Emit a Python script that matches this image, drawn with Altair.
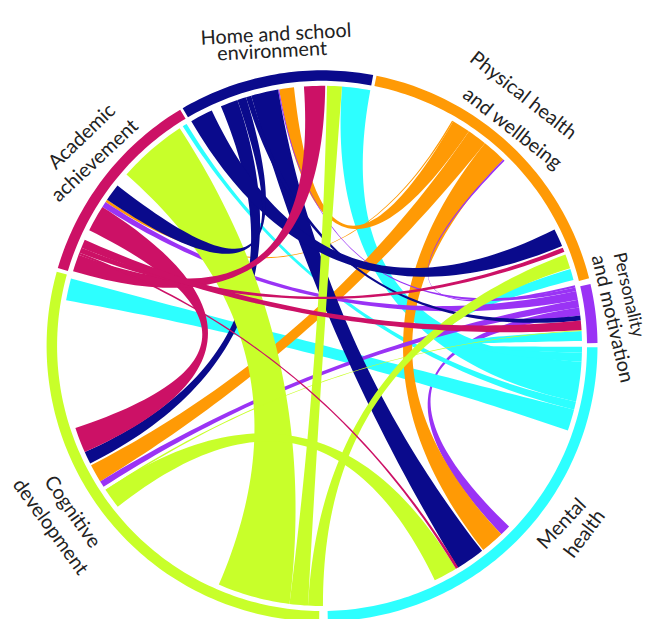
import math
import altair as alt
import pandas as pd

NAVY, ORANGE, CRIMSON, LIME, CYAN, PURPLE = "#0a0a8c", "#ff9a05", "#cc1166", "#c8ff2a", "#2dffff", "#9a33f5"

# outer ring: sector colours and angular limits (degrees clockwise from 12 o'clock)
sector_colors = [NAVY, ORANGE, PURPLE, CYAN, LIME, CRIMSON]
sector_start = [-30.4, 11.4, 77.0, 90.3, 180.6, -73.6]
sector_end = [10.7, 75.8, 89.4, 178.8, 285.6, -31.0]

# ribbons in paint order
chord_colors = [
    PURPLE,
    CYAN, CYAN, CYAN, CYAN, CYAN,
    ORANGE, ORANGE, ORANGE, ORANGE,
    PURPLE, PURPLE, PURPLE, PURPLE,
    NAVY, NAVY, NAVY,
    LIME, LIME, LIME, LIME, LIME,
    NAVY, NAVY,
    CRIMSON, CRIMSON, CRIMSON, CRIMSON, CRIMSON,
]
a_start = [
    81.5,
    4.4, -32.4, 72.8, 86.7, -79.9,
    -9.5, 34.4, 38.8, -56.4,
    44.2, 77.0, 77.8, 79.8,
    -22.9, -15.8, -17.0,
    -48.8, 1.1, 69.4, 149.0, 86.5,
    -30.2, -55.8,
    -63.6, -4.0, -69.0, -67.8, -69.5,
]
a_end = [
    83.3,
    10.7, -31.4, 75.3, 88.9, -75.0,
    -6.2, 38.8, 44.2, -55.8,
    44.6, 77.8, 79.8, 81.5,
    -19.0, -9.75, -15.8,
    -33.2, 4.4, 72.6, 154.3, 86.7,
    -25.1, -51.9,
    -57.7, 0.7, -67.8, -65.9, -69.0,
]
b_start = [
    134.0,
    93.5, 102.4, 91.5, 90.2, 104.2,
    30.3, 238.6, 136.4, 30.0,
    76.5, -9.75, -57.7, 237.2,
    243.1, 142.0, 83.3,
    187.2, 183.1, 179.8, 231.8, 236.0,
    63.4, -19.0,
    245.9, -73.3, 67.8, 84.4, 148.4,
]
b_end = [
    136.4,
    102.4, 104.2, 93.5, 91.5, 109.0,
    34.4, 242.7, 141.7, 30.3,
    77.0, -9.5, -56.4, 238.6,
    245.9, 148.5, 84.4,
    203.4, 187.2, 183.1, 236.4, 236.4,
    67.4, -17.0,
    251.6, -69.5, 68.8, 86.5, 149.0,
]

# label lines: text, anchor in plot units from the circle's centre, rotation, size
label_text = ["Home and school", "environment", "Physical health", "and wellbeing",
              "Personality", "and motivation", "Mental", "health",
              "Cognitive", "development", "Academic", "achievement"]
label_x = [-46, -50, 201, 190, 306, 290, 240, 263, -250, -272, -240, -227]
label_y = [311, 294, 250, 217, 51, 27, -178, -188, -166, -181, 209, 185]
label_angle = [-3, -3, 38, 38, 77, 77, -47, -53, 55, 54, -44, -43]
label_size = [20, 20, 20, 20, 18, 20, 20, 20, 20, 20, 20, 20]

R_CHORD, R_IN, R_OUT = 260, 265, 275.5


def pt(deg, r):
    t = math.radians(deg)
    return r * math.sin(t), r * math.cos(t)


def arc(a0, a1, r):
    n = max(2, int(abs(a1 - a0)) + 2)
    return [pt(a0 + (a1 - a0) * i / (n - 1), r) for i in range(n)]


def bend(p, q):
    # quadratic curve pulled through the circle's centre
    out = []
    for i in range(1, 60):
        s = i / 60
        out.append(((1 - s) ** 2 * p[0] + s * s * q[0], (1 - s) ** 2 * p[1] + s * s * q[1]))
    return out


def ribbon(a0, a1, b0, b1):
    A, B = arc(a0, a1, R_CHORD), arc(b0, b1, R_CHORD)
    return A + bend(A[-1], B[0]) + B + bend(B[-1], A[0])


X = alt.Scale(domain=[-314.1, 321], nice=False, zero=False)
Y = alt.Scale(domain=[-269.2, 334], nice=False, zero=False)


def shape(points, color):
    df = pd.DataFrame(points, columns=["x", "y"])
    df["i"] = range(len(df))
    return alt.Chart(df).mark_line(fill=color, strokeWidth=0, clip=False).encode(
        x=alt.X("x:Q", scale=X, axis=None),
        y=alt.Y("y:Q", scale=Y, axis=None),
        order="i:Q",
    )


layers = []
for c, a0, a1, b0, b1 in zip(chord_colors, a_start, a_end, b_start, b_end):
    layers.append(shape(ribbon(a0, a1, b0, b1), c))
for c, s, e in zip(sector_colors, sector_start, sector_end):
    layers.append(shape(arc(s, e, R_IN) + arc(e, s, R_OUT), c))
for t, x, y, ang, size in zip(label_text, label_x, label_y, label_angle, label_size):
    df = pd.DataFrame({"x": [x], "y": [y], "t": [t]})
    layers.append(
        alt.Chart(df).mark_text(font="Lato", fontSize=size, angle=(ang + 360) % 360, color="#222222", align="center", baseline="middle").encode(
            x=alt.X("x:Q", scale=X, axis=None),
            y=alt.Y("y:Q", scale=Y, axis=None),
            text="t:N",
        )
    )

chart = alt.layer(*layers).properties(width=643, height=611, padding=0, autosize=alt.AutoSizeParams(type="none")).configure_view(stroke=None)
chart.save("out.html", embed_options={"renderer": "svg", "actions": False})
